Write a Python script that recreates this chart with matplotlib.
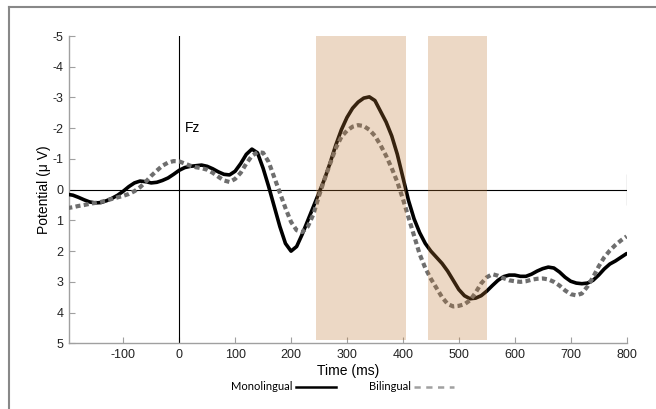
import numpy as np
import matplotlib
matplotlib.use("Agg")
import matplotlib.pyplot as plt
from matplotlib.lines import Line2D

plt.rcParams['font.family'] = ['Liberation Sans', 'DejaVu Sans']
plt.rcParams['axes.unicode_minus'] = False

# ERP at Fz, time in ms, potential in microvolts (negative up)
time_ms = list(range(-200, 801, 10))
mono = [0.15, 0.18, 0.25, 0.33, 0.40, 0.43, 0.42, 0.36, 0.28, 0.18,
        0.05, -0.10, -0.22, -0.28, -0.26, -0.22, -0.24, -0.30, -0.38, -0.50,
        -0.63, -0.72, -0.76, -0.78, -0.80, -0.76, -0.68, -0.58, -0.50, -0.48,
        -0.60, -0.85, -1.15, -1.32, -1.20, -0.70, -0.10, 0.55, 1.20, 1.75,
        2.00, 1.85, 1.45, 1.00, 0.55, 0.10, -0.35, -0.88, -1.45, -1.95,
        -2.35, -2.65, -2.85, -2.98, -3.02, -2.90, -2.55, -2.20, -1.75, -1.15,
        -0.40, 0.35, 0.95, 1.40, 1.75, 2.00, 2.20, 2.40, 2.65, 2.95,
        3.25, 3.45, 3.55, 3.53, 3.45, 3.30, 3.12, 2.95, 2.83, 2.78,
        2.78, 2.82, 2.82, 2.75, 2.65, 2.57, 2.52, 2.55, 2.68, 2.85,
        2.98, 3.04, 3.06, 3.04, 2.95, 2.78, 2.58, 2.42, 2.32, 2.20,
        2.08]
bili = [0.60, 0.57, 0.53, 0.50, 0.46, 0.43, 0.40, 0.35, 0.30, 0.25,
        0.20, 0.14, 0.05, -0.08, -0.25, -0.45, -0.62, -0.78, -0.88, -0.93,
        -0.92, -0.85, -0.78, -0.73, -0.70, -0.65, -0.55, -0.42, -0.30, -0.25,
        -0.35, -0.55, -0.85, -1.10, -1.22, -1.20, -0.90, -0.40, 0.10, 0.60,
        1.05, 1.32, 1.38, 1.20, 0.80, 0.20, -0.35, -0.85, -1.35, -1.72,
        -1.92, -2.05, -2.10, -2.07, -1.95, -1.75, -1.45, -1.10, -0.70, -0.25,
        0.30, 0.90, 1.50, 2.10, 2.55, 2.90, 3.20, 3.50, 3.72, 3.80,
        3.78, 3.73, 3.60, 3.35, 3.05, 2.85, 2.75, 2.80, 2.88, 2.95,
        2.98, 3.00, 2.98, 2.93, 2.90, 2.89, 2.92, 3.00, 3.12, 3.28,
        3.40, 3.44, 3.38, 3.15, 2.85, 2.50, 2.20, 1.98, 1.80, 1.65,
        1.52]

windows = [(245, 405), (445, 550)]
xticks = [-100, 0, 100, 200, 300, 400, 500, 600, 700, 800]
yticks = [-5, -4, -3, -2, -1, 0, 1, 2, 3, 4, 5]

fig = plt.figure(figsize=(6.56, 4.09), dpi=100)
ax = fig.add_axes([0.1052, 0.1606, 0.850, 0.7513])

ax.plot(time_ms, mono, color='black', lw=2.6, zorder=3,
        solid_capstyle='round', solid_joinstyle='round')
ax.plot(time_ms, bili, color='#6e6e6e', lw=3.0, ls=(0, (1.2, 0.8)), zorder=3)

ax.axhline(0, color='black', lw=0.8, zorder=2)
ax.axvline(0, color='black', lw=0.8, zorder=2)
ax.vlines(800, -0.5, 0.5, color='black', lw=0.8, zorder=2)

for a, b in windows:
    ax.fill_betweenx([-5, 4.9], a, b, color='#be7937', alpha=0.29, lw=0, zorder=4)

ax.text(10, -2.0, 'Fz', fontsize=10, va='center', ha='left')

ax.set_xlim(-197, 800)
ax.set_ylim(5, -5)
ax.set_xticks(xticks)
ax.set_yticks(yticks)
for s in ['top', 'right']:
    ax.spines[s].set_visible(False)
for s in ['left', 'bottom']:
    ax.spines[s].set_color('#a0a0a0')
    ax.spines[s].set_linewidth(1.0)
ax.tick_params(direction='in', length=4, color='#a0a0a0', labelsize=9,
               labelcolor='#222222', pad=4)
ax.set_xlabel('Time (ms)', fontsize=10, labelpad=2)
ax.set_ylabel('Potential (μ V)', fontsize=10, labelpad=1)

handles = [Line2D([], [], color='black', lw=1.8),
           Line2D([], [], color='#a0a0a0', lw=1.8, ls=(0, (2.5, 2.2)))]
fig.legend(handles, ['Monolingual', 'Bilingual'], loc='center',
           bbox_to_anchor=(0.522, 0.054), ncol=2, frameon=False,
           markerfirst=False, handlelength=3.6, columnspacing=3.0,
           handletextpad=0.3, prop={'family': 'Lato', 'size': 8})

# frame lines at top and left of the figure
fig.add_artist(Line2D([0.0137, 0.0137], [0.0, 0.983], color='#888888', lw=1.5))
fig.add_artist(Line2D([0.0137, 1.0], [0.983, 0.983], color='#888888', lw=1.5))

fig.savefig('out.png', dpi=100)
